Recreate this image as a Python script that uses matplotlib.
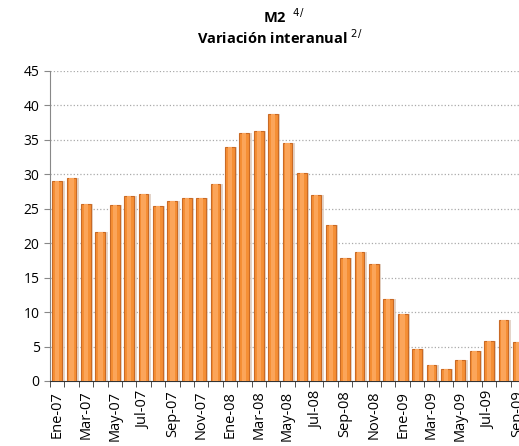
import numpy as np
import matplotlib.pyplot as plt

# data
months = ["Ene", "Feb", "Mar", "Abr", "May", "Jun", "Jul", "Ago", "Sep", "Oct", "Nov", "Dic"]
labels = [f"{m}-{y}" for y in ["07", "08", "09"] for m in months][:33]
values = [29.1, 29.4, 25.7, 21.6, 25.6, 26.9, 27.2, 25.4, 26.2, 26.5, 26.5, 28.6,
          34.0, 36.0, 36.3, 38.8, 34.5, 30.2, 27.0, 22.6, 17.8, 18.7, 17.0, 11.9,
          9.7, 4.6, 2.3, 1.8, 3.05, 4.4, 5.8, 8.9, 5.7]

plt.rcParams['font.family'] = ['Open Sans', 'DejaVu Sans']

fig = plt.figure(figsize=(5.19, 4.46), dpi=100)
ax = fig.add_axes([50/519, 1 - 381/446, 475/519, 310/446])

x = np.arange(len(values))
# soft shadow behind bars
ax.bar(x + 0.12, values, width=0.78, color='#d9c3b3', alpha=0.7, zorder=2)
ax.bar(x, values, width=0.68, color='#f58f35', edgecolor='#c96a25', linewidth=0.8, zorder=3)
ax.bar(x, values, width=0.3, color='#fba55a', linewidth=0, zorder=4)

ax.set_xlim(-0.5, len(values) - 0.5)
ax.set_ylim(0, 45)
ax.set_yticks(np.arange(0, 46, 5))
ax.yaxis.grid(True, linestyle=':', color='#aaaaaa', linewidth=0.9, zorder=0)
ax.set_axisbelow(True)

ax.set_xticks(x[::2])
ax.set_xticklabels(labels[::2], rotation=90, fontsize=10.5)
ax.set_xticks(np.arange(-0.5, len(values), 1), minor=True)
ax.tick_params(axis='x', which='major', length=0, pad=7)
ax.tick_params(axis='x', which='minor', length=4, color='#333333', direction='out')
ax.tick_params(axis='y', labelsize=10, length=4, color='#888888')

for s in ['right', 'top']:
    ax.spines[s].set_visible(False)
ax.spines['left'].set_color('#888888')
ax.spines['bottom'].set_color('#333333')

fig.text(284/519, 1 - 17/446, r"M2  $^{4/}$", ha='center', va='center', fontsize=10.5, fontweight='bold')
fig.text(280/519, 1 - 38/446, r"Variación interanual $^{2/}$", ha='center', va='center',
         fontsize=10.5, fontweight='bold')

fig.savefig("out.png", dpi=100)
